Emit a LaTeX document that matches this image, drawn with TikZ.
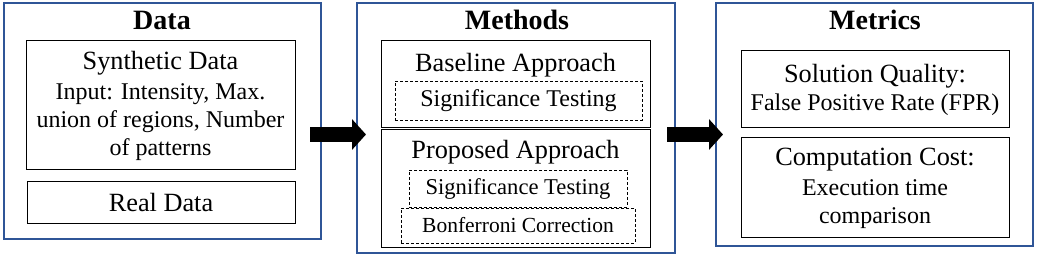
\documentclass[tikz,border=0pt]{standalone}
\usepackage{fontspec}
\setmainfont{Liberation Serif}
\usepackage{xcolor}
\usetikzlibrary{arrows.meta}
\definecolor{framblue}{RGB}{47,85,151}
\newcommand{\bigsz}{\fontsize{26.3}{30}\selectfont}
\newcommand{\smallsz}{\fontsize{24}{28}\selectfont}

\begin{document}
\begin{tikzpicture}[x=1pt, y=-1pt,
    frame/.style={draw=framblue, line width=1.2pt, inner sep=0pt},
    box/.style={draw, line width=1pt, inner sep=0pt, align=center},
    dashbox/.style={draw, line width=0.9pt, dash pattern=on 3pt off 2pt, inner sep=0pt, font=\fontsize{22.6}{26}\selectfont},
    title/.style={anchor=base, font=\fontsize{28}{32}\selectfont\bfseries},
    bigarrow/.style={line width=15pt, -{Triangle[length=14pt, width=30pt]}}]
            \useasboundingbox (0,0) rectangle (1037,256);

            % three columns
            \node[frame, minimum width=317pt, minimum height=236pt] (data) at (162.5,121) {};
            \node[frame, minimum width=318pt, minimum height=250pt] (meth) at (516,128) {};
            \node[frame, minimum width=317pt, minimum height=243pt] (metr) at (874.5,124.5) {};

            \node[title] (tdata) at (162,29.5) {Data};
            \node[title] (tmeth) at (517,29.5) {Methods};
            \node[title] (tmetr) at (875,29.5) {Metrics};

            % data
            \node[box, minimum width=269pt, minimum height=129pt, font=\smallsz] (synth) at (160.5,105.5)
                {{\bigsz Synthetic Data}\\[2pt]Input: Intensity, Max.\\union of regions, Number\\of patterns};
            \node[box, minimum width=268pt, minimum height=42pt, font=\bigsz] (real) at (161,203) {Real Data};

            % methods
            \node[box, minimum width=269pt, minimum height=87pt] (base) at (515.5,84.5) {};
            \node[anchor=base, font=\bigsz] (tbase) at (515.5,72) {Baseline Approach};
            \node[dashbox, minimum width=247pt, minimum height=39pt, font=\fontsize{24}{28}\selectfont] (bsig) at (518.5,100.5) {Significance Testing};
            \node[box, minimum width=269pt, minimum height=118pt] (prop) at (515.5,189) {};
            \node[anchor=base, font=\bigsz] (tprop) at (515.5,159) {Proposed Approach};
            \node[dashbox, minimum width=218pt, minimum height=37pt] (psig) at (518,188.5) {Significance Testing};
            \node[dashbox, minimum width=234pt, minimum height=35pt, font=\fontsize{21.5}{25}\selectfont] (bonf) at (518,225.5) {Bonferroni Correction};

            % metrics
            \node[box, minimum width=268pt, minimum height=77pt, font=\smallsz] (qual) at (875,89.5)
                {{\bigsz Solution Quality:}\\False Positive Rate (FPR)};
            \node[box, minimum width=268pt, minimum height=100pt, font=\smallsz] (cost) at (875,188)
                {{\bigsz Computation Cost:}\\[2pt]Execution time\\comparison};

            % arrows between columns
            \coordinate (a1) at (310,134.5);
            \coordinate (b1) at (366,134.5);
            \coordinate (a2) at (667,134.5);
            \coordinate (b2) at (723,134.5);
            \draw[bigarrow] (a1) -- (b1);
            \draw[bigarrow] (a2) -- (b2);
        \end{tikzpicture}
\end{document}
